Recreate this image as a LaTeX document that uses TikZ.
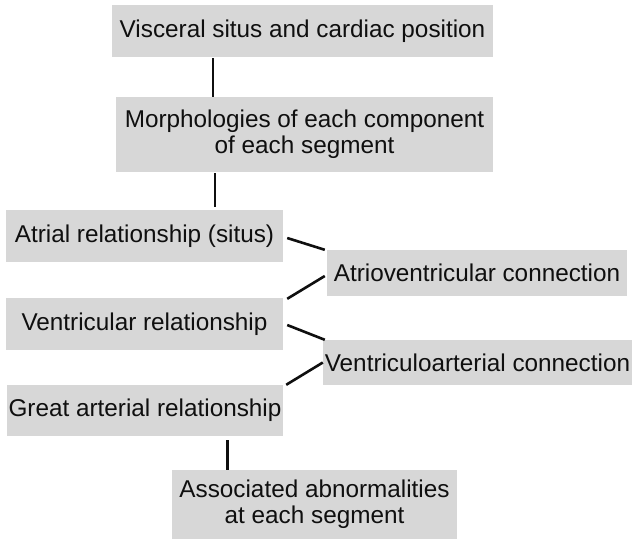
\documentclass[tikz,border=0pt]{standalone}
\usepackage{fontspec}
\setmainfont{Liberation Sans}
\usepackage{tikz}
\usetikzlibrary{positioning,calc}
\definecolor{boxgray}{RGB}{215,215,215}
\definecolor{linkclr}{RGB}{15,15,15}

\begin{document}
\begin{tikzpicture}[x=1pt, y=-1pt,
    segbox/.style={fill=boxgray, inner sep=0pt, align=center,
                   font=\fontsize{24.3}{26}\selectfont, text=linkclr},
    link/.style={draw=linkclr, line width=2.6pt}]
  \useasboundingbox (0,0) rectangle (632,539);
  \node[segbox, minimum width=381pt, minimum height=52pt] (situs) at (302.5,31)
    {Visceral situs and cardiac position};
  \node[segbox, minimum width=377pt, minimum height=75pt] (morph) at (304.5,134.5)
    {Morphologies of each component\\of each segment};
  \node[segbox, minimum width=277pt, minimum height=52pt] (atrial) at (144.5,236)
    {Atrial relationship (situs)};
  \node[segbox, minimum width=300pt, minimum height=46pt] (avconn) at (477,273)
    {Atrioventricular connection};
  \node[segbox, minimum width=277pt, minimum height=52pt] (ventr) at (144.5,324)
    {Ventricular relationship};
  \node[segbox, minimum width=309pt, minimum height=45pt] (vaconn) at (477.5,362.5)
    {Ventriculoarterial connection};
  \node[segbox, minimum width=276pt, minimum height=51pt] (great) at (145,410.5)
    {Great arterial relationship};
  \node[segbox, minimum width=285pt, minimum height=69pt] (assoc) at (314.5,504.5)
    {Associated abnormalities\\at each segment};
  % vertical links
  \draw[link] ([xshift=-89.5pt, yshift=-1pt]situs.south) -- ([xshift=-89.5pt]situs.south |- morph.north);
  \draw[link] ([xshift=-89.5pt, yshift=-1pt]morph.south) -- ([xshift=-89.5pt, yshift=3pt]morph.south |- atrial.north);
  \draw[link] ([xshift=82.5pt, yshift=-4pt]great.south) -- ([xshift=82.5pt]great.south |- assoc.north);
  % diagonal links
  \draw[link] ([xshift=4pt, yshift=-2pt]atrial.east) -- ([xshift=-2pt]avconn.north west);
  \draw[link] ([xshift=4pt, yshift=-1pt]ventr.north east) -- ([xshift=-2pt, yshift=-3pt]avconn.west);
  \draw[link] ([xshift=4pt, yshift=-1pt]ventr.east) -- ([xshift=2pt]vaconn.north west);
  \draw[link] ([xshift=3pt]great.north east) -- ([xshift=0pt]vaconn.west);
\end{tikzpicture}
\end{document}
